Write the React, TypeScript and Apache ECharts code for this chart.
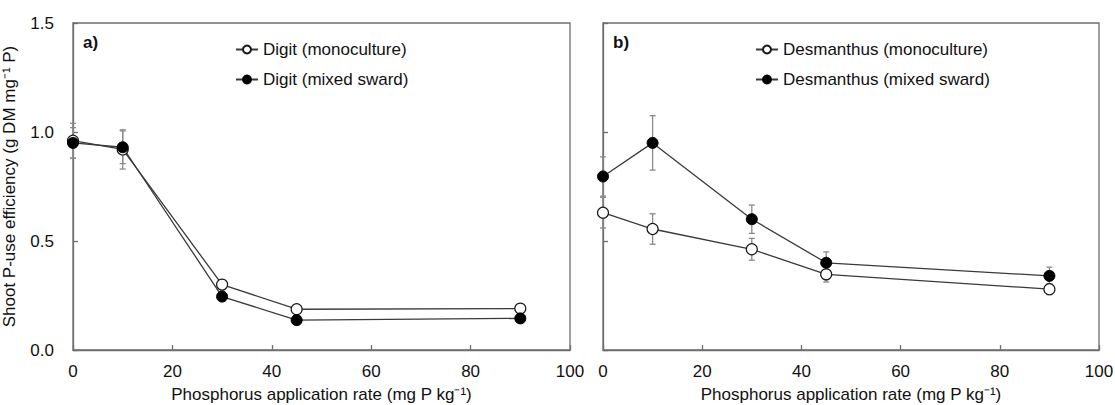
import React, { useEffect, useRef } from "react";
import * as echarts from "echarts";

const RATES = [0, 10, 30, 45, 90];
const X_TICKS = [0, 20, 40, 60, 80, 100];
const Y_TICKS = [0.0, 0.5, 1.0, 1.5];

const DIGIT_MONO = [0.96, 0.92, 0.30, 0.187, 0.19];
const DIGIT_MONO_ERR = [0.08, 0.09, 0.02, 0.015, 0.015];
const DIGIT_MIX = [0.95, 0.93, 0.245, 0.137, 0.145];
const DIGIT_MIX_ERR = [0.07, 0.075, 0.02, 0.015, 0.015];

const DES_MONO = [0.63, 0.555, 0.462, 0.347, 0.279];
const DES_MONO_ERR = [0.07, 0.07, 0.05, 0.035, 0.025];
const DES_MIX = [0.796, 0.95, 0.60, 0.40, 0.34];
const DES_MIX_ERR = [0.09, 0.125, 0.065, 0.05, 0.04];

const NAMES = [
  "Digit (monoculture)",
  "Digit (mixed sward)",
  "Desmanthus (monoculture)",
  "Desmanthus (mixed sward)",
];
const PANEL_LABELS = ["a)", "b)"];
const X_TITLE = "Phosphorus application rate (mg P kg\u207B\u00B9)";
const Y_TITLE = "Shoot P-use efficiency (g DM mg\u207B\u00B9 P)";

const FONT = "Liberation Sans, Arial, sans-serif";
const AXIS_COLOR = "#6e6e6e";
const LINE_COLOR = "#3a3a3a";
const ERR_COLOR = "#8a8a8a";
const TEXT_COLOR = "#111111";

function pairs(ys: number[]) {
  return RATES.map((x, i) => [x, ys[i]]);
}
function errPairs(ys: number[], es: number[]) {
  return RATES.map((x, i) => [x, ys[i], es[i]]);
}

function lineSeries(name: string, ys: number[], idx: number, open: boolean) {
  return {
    type: "line",
    name,
    xAxisIndex: idx,
    yAxisIndex: idx,
    data: pairs(ys),
    symbol: "circle",
    symbolSize: 11,
    z: 3,
    lineStyle: { color: LINE_COLOR, width: 1.3 },
    itemStyle: open
      ? { color: "#ffffff", borderColor: "#1a1a1a", borderWidth: 1.2 }
      : { color: "#000000", borderColor: "#000000", borderWidth: 1 },
  };
}

function errSeries(ys: number[], es: number[], idx: number) {
  return {
    type: "custom",
    xAxisIndex: idx,
    yAxisIndex: idx,
    data: errPairs(ys, es),
    z: 1,
    silent: true,
    renderItem: (params: any, api: any) => {
      const x = api.value(0);
      const y = api.value(1);
      const e = api.value(2);
      const top = api.coord([x, y + e]);
      const bot = api.coord([x, y - e]);
      const w = 3;
      const style = { stroke: ERR_COLOR, lineWidth: 1.3 };
      return {
        type: "group",
        children: [
          { type: "line", shape: { x1: top[0], y1: top[1], x2: bot[0], y2: bot[1] }, style },
          { type: "line", shape: { x1: top[0] - w, y1: top[1], x2: top[0] + w, y2: top[1] }, style },
          { type: "line", shape: { x1: bot[0] - w, y1: bot[1], x2: bot[0] + w, y2: bot[1] }, style },
        ],
      };
    },
  };
}

function xAxis(idx: number) {
  return {
    type: "value",
    gridIndex: idx,
    min: X_TICKS[0],
    max: X_TICKS[X_TICKS.length - 1],
    interval: X_TICKS[1] - X_TICKS[0],
    name: X_TITLE,
    nameLocation: "middle",
    nameGap: 35,
    nameTextStyle: { fontFamily: FONT, fontSize: 17, lineHeight: 18, color: TEXT_COLOR },
    axisLine: { show: true, lineStyle: { color: AXIS_COLOR, width: 1.3 } },
    axisTick: { show: true, inside: true, length: 5, lineStyle: { color: AXIS_COLOR, width: 1.3 } },
    axisLabel: { fontFamily: FONT, fontSize: 17, color: TEXT_COLOR, margin: 13 },
    splitLine: { show: false },
  };
}

function yAxis(idx: number) {
  return {
    type: "value",
    gridIndex: idx,
    min: Y_TICKS[0],
    max: Y_TICKS[Y_TICKS.length - 1],
    interval: Y_TICKS[1] - Y_TICKS[0],
    name: idx === 0 ? Y_TITLE : "",
    nameLocation: "middle",
    nameGap: 55,
    nameTextStyle: { fontFamily: FONT, fontSize: 17, lineHeight: 18, color: TEXT_COLOR },
    axisLine: { show: true, lineStyle: { color: AXIS_COLOR, width: 1.3 } },
    axisTick: { show: true, inside: true, length: 5, lineStyle: { color: AXIS_COLOR, width: 1.3 } },
    axisLabel: {
      show: idx === 0,
      fontFamily: FONT,
      fontSize: 17,
      color: TEXT_COLOR,
      margin: 19,
      formatter: (v: number) => v.toFixed(1),
    },
    splitLine: { show: false },
  };
}

export default function App() {
  const ref = useRef<HTMLDivElement>(null);
  useEffect(() => {
    if (!ref.current) return;
    const chart = echarts.init(ref.current, undefined, { renderer: "svg" });
    const legendText = { fontFamily: FONT, fontSize: 17, color: TEXT_COLOR };
    chart.setOption({
      animation: false,
      backgroundColor: "#ffffff",
      grid: [
        {
          left: 73, right: 545, top: 23, bottom: 55,
          show: true, borderColor: AXIS_COLOR, borderWidth: 1.3,
          containLabel: false, outerBoundsMode: "none",
        },
        {
          left: 603, right: 16, top: 23, bottom: 55,
          show: true, borderColor: AXIS_COLOR, borderWidth: 1.3,
          containLabel: false, outerBoundsMode: "none",
        },
      ],
      xAxis: [xAxis(0), xAxis(1)],
      yAxis: [yAxis(0), yAxis(1)],
      legend: [
        {
          data: [NAMES[0], NAMES[1]],
          orient: "vertical",
          left: 230,
          top: 36,
          itemWidth: 22,
          itemHeight: 10,
          itemGap: 13,
          textStyle: legendText,
          selectedMode: false,
        },
        {
          data: [NAMES[2], NAMES[3]],
          orient: "vertical",
          left: 750,
          top: 36,
          itemWidth: 22,
          itemHeight: 10,
          itemGap: 13,
          textStyle: legendText,
          selectedMode: false,
        },
      ],
      graphic: [
        { type: "text", left: 83, top: 34, style: { text: PANEL_LABELS[0], font: `bold 17px ${FONT}`, fill: TEXT_COLOR } },
        { type: "text", left: 613, top: 34, style: { text: PANEL_LABELS[1], font: `bold 17px ${FONT}`, fill: TEXT_COLOR } },
      ],
      series: [
        errSeries(DIGIT_MONO, DIGIT_MONO_ERR, 0),
        errSeries(DIGIT_MIX, DIGIT_MIX_ERR, 0),
        errSeries(DES_MONO, DES_MONO_ERR, 1),
        errSeries(DES_MIX, DES_MIX_ERR, 1),
        lineSeries(NAMES[0], DIGIT_MONO, 0, true),
        lineSeries(NAMES[1], DIGIT_MIX, 0, false),
        lineSeries(NAMES[2], DES_MONO, 1, true),
        lineSeries(NAMES[3], DES_MIX, 1, false),
      ],
    });
    return () => chart.dispose();
  }, []);
  return (
    <div
      ref={ref}
      style={{ position: "absolute", left: 0, top: 0, width: 1115, height: 405 }}
    />
  );
}
